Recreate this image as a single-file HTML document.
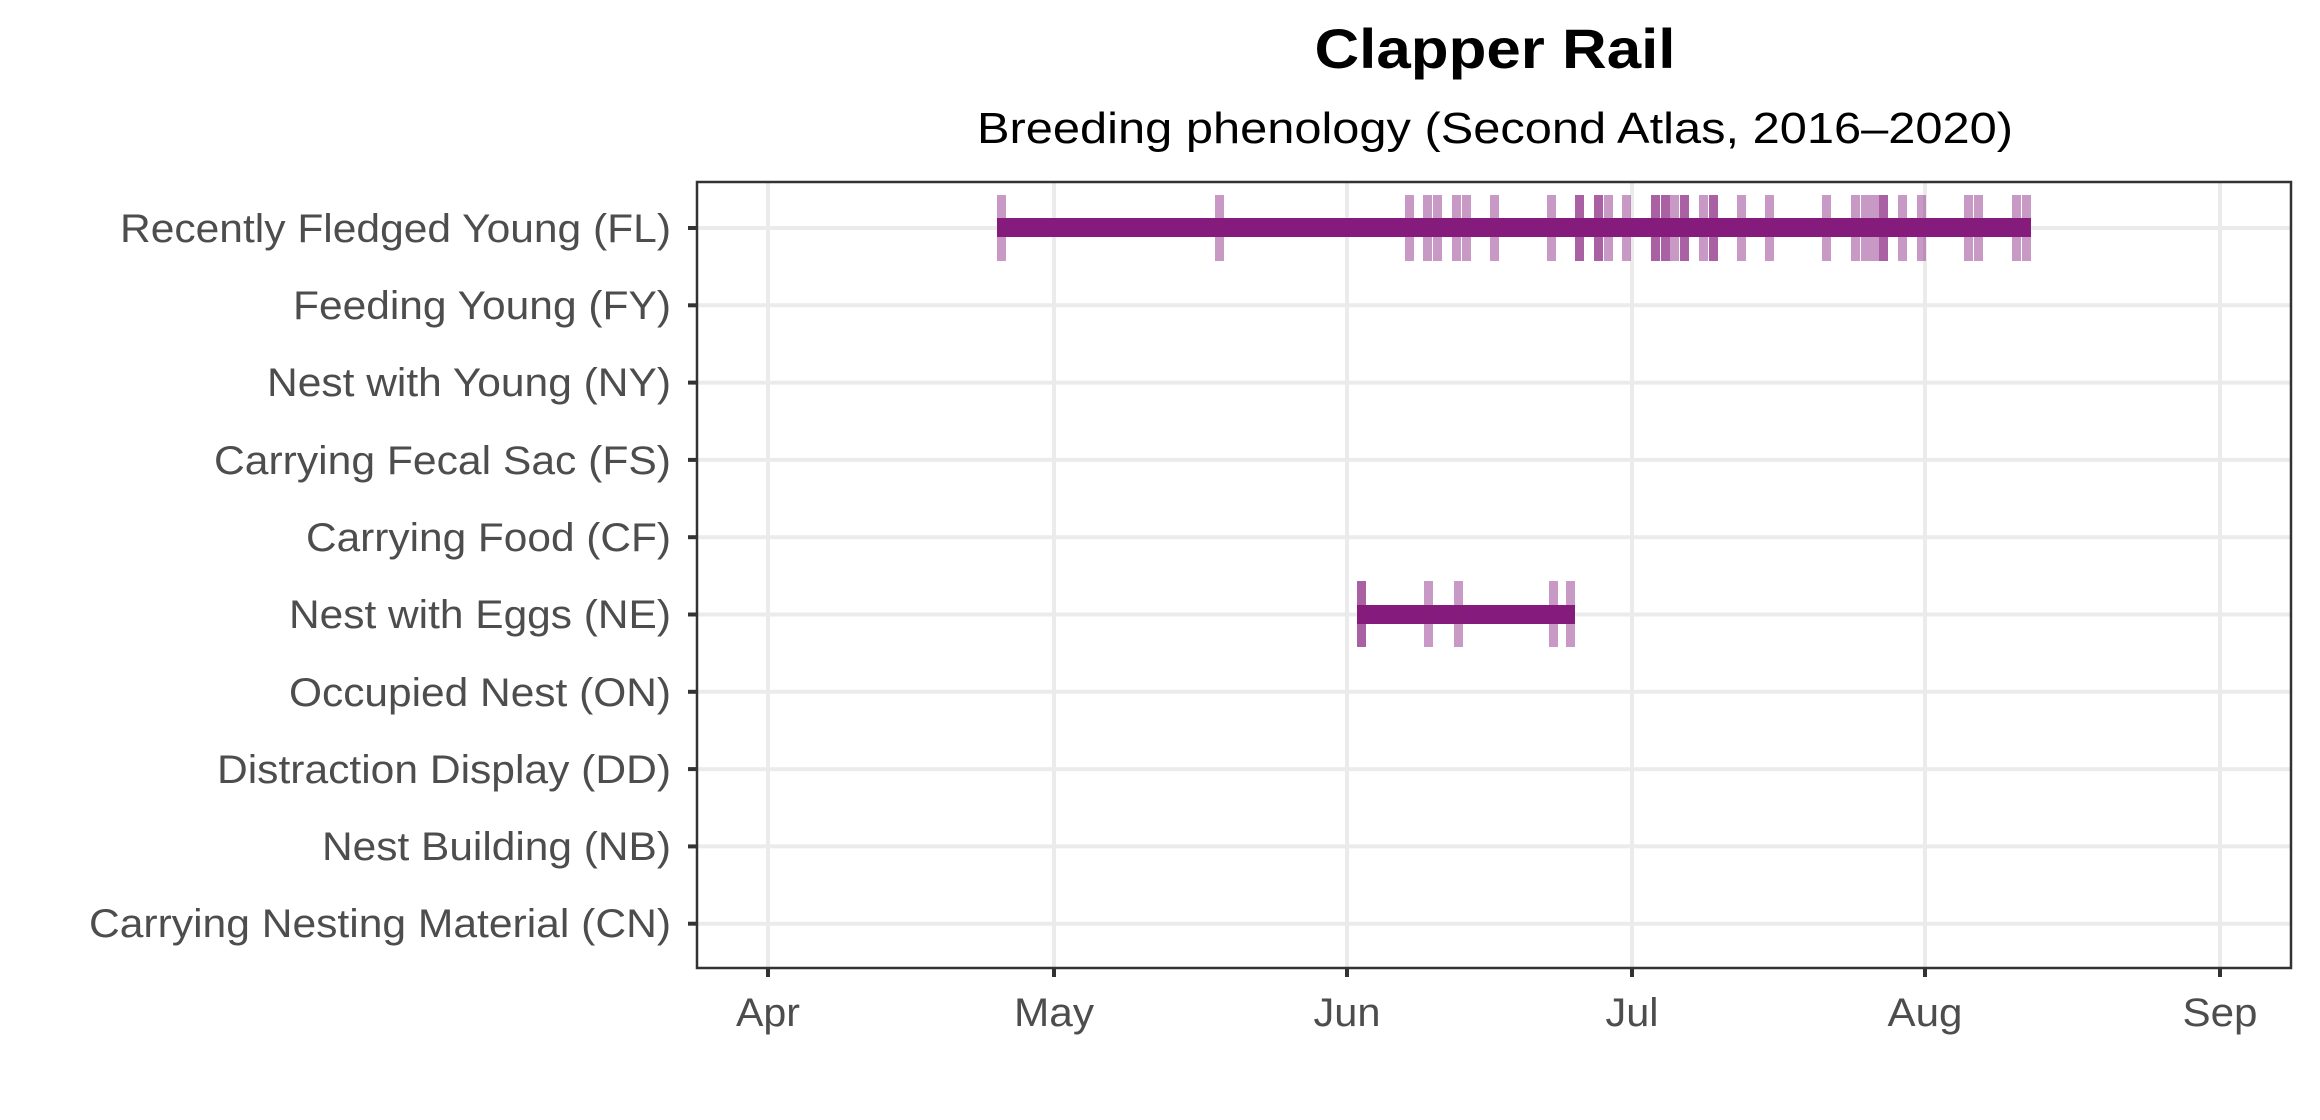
<!DOCTYPE html>
<html><head><meta charset="utf-8"><style>html,body{margin:0;padding:0;background:#fff}svg{display:block}</style></head>
<body>
<svg width="2320" height="1120" viewBox="0 0 2320 1120" xmlns="http://www.w3.org/2000/svg" font-family="Liberation Sans, Arial, sans-serif">
<rect width="2320" height="1120" fill="#fff"/>
<text x="1495" y="68" text-anchor="middle" font-size="56" font-weight="bold" fill="#000" textLength="361" lengthAdjust="spacingAndGlyphs">Clapper Rail</text>
<text x="1495" y="143" text-anchor="middle" font-size="44" fill="#000" textLength="1036" lengthAdjust="spacingAndGlyphs">Breeding phenology (Second Atlas, 2016–2020)</text>
<g stroke="#ebebeb" stroke-width="4">
<line x1="768" y1="182" x2="768" y2="968"/><line x1="1054" y1="182" x2="1054" y2="968"/><line x1="1347" y1="182" x2="1347" y2="968"/><line x1="1632" y1="182" x2="1632" y2="968"/><line x1="1925" y1="182" x2="1925" y2="968"/><line x1="2220" y1="182" x2="2220" y2="968"/>
<line x1="697" y1="228" x2="2291" y2="228"/><line x1="697" y1="305.3" x2="2291" y2="305.3"/><line x1="697" y1="382.6" x2="2291" y2="382.6"/><line x1="697" y1="459.9" x2="2291" y2="459.9"/><line x1="697" y1="537.2" x2="2291" y2="537.2"/><line x1="697" y1="614.5" x2="2291" y2="614.5"/><line x1="697" y1="691.8" x2="2291" y2="691.8"/><line x1="697" y1="769.1" x2="2291" y2="769.1"/><line x1="697" y1="846.4" x2="2291" y2="846.4"/><line x1="697" y1="923.7" x2="2291" y2="923.7"/>
</g>
<rect x="997" y="218" width="1034" height="19" fill="#851c7d"/>
<rect x="1357" y="605" width="218" height="19" fill="#851c7d"/>
<g fill="#851c7d" fill-opacity="0.45">
<rect x="997" y="195" width="9" height="66"/><rect x="1215" y="195" width="9" height="66"/><rect x="1405" y="195" width="9" height="66"/><rect x="1423" y="195" width="9" height="66"/><rect x="1433" y="195" width="9" height="66"/><rect x="1452" y="195" width="9" height="66"/><rect x="1462" y="195" width="9" height="66"/><rect x="1490" y="195" width="9" height="66"/><rect x="1547" y="195" width="9" height="66"/><rect x="1575" y="195" width="9" height="66"/><rect x="1575" y="195" width="9" height="66"/><rect x="1594" y="195" width="9" height="66"/><rect x="1594" y="195" width="9" height="66"/><rect x="1604" y="195" width="9" height="66"/><rect x="1622" y="195" width="9" height="66"/><rect x="1651" y="195" width="9" height="66"/><rect x="1651" y="195" width="9" height="66"/><rect x="1661" y="195" width="9" height="66"/><rect x="1661" y="195" width="9" height="66"/><rect x="1670" y="195" width="9" height="66"/><rect x="1680" y="195" width="9" height="66"/><rect x="1680" y="195" width="9" height="66"/><rect x="1699" y="195" width="9" height="66"/><rect x="1709" y="195" width="9" height="66"/><rect x="1709" y="195" width="9" height="66"/><rect x="1737" y="195" width="9" height="66"/><rect x="1765" y="195" width="9" height="66"/><rect x="1822" y="195" width="9" height="66"/><rect x="1851" y="195" width="9" height="66"/><rect x="1861" y="195" width="9" height="66"/><rect x="1870" y="195" width="9" height="66"/><rect x="1879" y="195" width="9" height="66"/><rect x="1879" y="195" width="9" height="66"/><rect x="1898" y="195" width="9" height="66"/><rect x="1917" y="195" width="9" height="66"/><rect x="1964" y="195" width="9" height="66"/><rect x="1974" y="195" width="9" height="66"/><rect x="2012" y="195" width="9" height="66"/><rect x="2022" y="195" width="9" height="66"/>
<rect x="1357" y="581" width="9" height="66"/><rect x="1357" y="581" width="9" height="66"/><rect x="1424" y="581" width="9" height="66"/><rect x="1454" y="581" width="9" height="66"/><rect x="1549" y="581" width="9" height="66"/><rect x="1566" y="581" width="9" height="66"/>
</g>
<rect x="697" y="182" width="1594" height="786" fill="none" stroke="#333" stroke-width="2.5"/>
<g stroke="#333" stroke-width="4">
<line x1="688" y1="228" x2="697" y2="228"/><line x1="688" y1="305.3" x2="697" y2="305.3"/><line x1="688" y1="382.6" x2="697" y2="382.6"/><line x1="688" y1="459.9" x2="697" y2="459.9"/><line x1="688" y1="537.2" x2="697" y2="537.2"/><line x1="688" y1="614.5" x2="697" y2="614.5"/><line x1="688" y1="691.8" x2="697" y2="691.8"/><line x1="688" y1="769.1" x2="697" y2="769.1"/><line x1="688" y1="846.4" x2="697" y2="846.4"/><line x1="688" y1="923.7" x2="697" y2="923.7"/>
<line x1="768" y1="968" x2="768" y2="977"/><line x1="1054" y1="968" x2="1054" y2="977"/><line x1="1347" y1="968" x2="1347" y2="977"/><line x1="1632" y1="968" x2="1632" y2="977"/><line x1="1925" y1="968" x2="1925" y2="977"/><line x1="2220" y1="968" x2="2220" y2="977"/>
</g>
<g font-size="40" fill="#4d4d4d" text-anchor="end">
<text x="671" y="242" textLength="551" lengthAdjust="spacingAndGlyphs">Recently Fledged Young (FL)</text>
<text x="671" y="319" textLength="378" lengthAdjust="spacingAndGlyphs">Feeding Young (FY)</text>
<text x="671" y="396" textLength="404" lengthAdjust="spacingAndGlyphs">Nest with Young (NY)</text>
<text x="671" y="474" textLength="457" lengthAdjust="spacingAndGlyphs">Carrying Fecal Sac (FS)</text>
<text x="671" y="551" textLength="365" lengthAdjust="spacingAndGlyphs">Carrying Food (CF)</text>
<text x="671" y="628" textLength="382" lengthAdjust="spacingAndGlyphs">Nest with Eggs (NE)</text>
<text x="671" y="706" textLength="382" lengthAdjust="spacingAndGlyphs">Occupied Nest (ON)</text>
<text x="671" y="783" textLength="454" lengthAdjust="spacingAndGlyphs">Distraction Display (DD)</text>
<text x="671" y="860" textLength="349" lengthAdjust="spacingAndGlyphs">Nest Building (NB)</text>
<text x="671" y="937" textLength="582" lengthAdjust="spacingAndGlyphs">Carrying Nesting Material (CN)</text>
</g>
<g font-size="40" fill="#4d4d4d" text-anchor="middle">
<text x="768" y="1026" textLength="64" lengthAdjust="spacingAndGlyphs">Apr</text><text x="1054" y="1026" textLength="80" lengthAdjust="spacingAndGlyphs">May</text><text x="1347" y="1026" textLength="67" lengthAdjust="spacingAndGlyphs">Jun</text><text x="1632" y="1026" textLength="53" lengthAdjust="spacingAndGlyphs">Jul</text><text x="1925" y="1026" textLength="75" lengthAdjust="spacingAndGlyphs">Aug</text><text x="2220" y="1026" textLength="75" lengthAdjust="spacingAndGlyphs">Sep</text>
</g>
</svg>
</body></html>
